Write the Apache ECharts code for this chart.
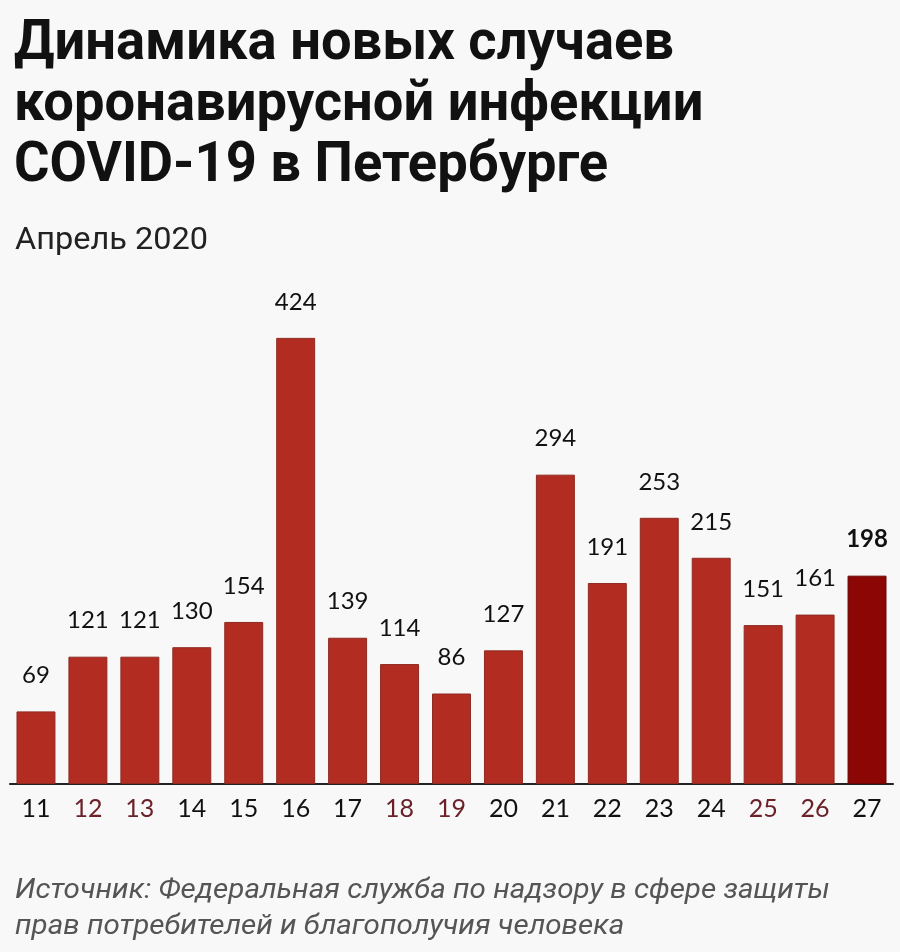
<!DOCTYPE html>
<html><head><meta charset="utf-8">
<script src="https://cdn.jsdelivr.net/npm/echarts@6/dist/echarts.min.js"></script>
<style>html,body{margin:0;padding:0;background:#f8f8f8}#c{width:900px;height:952px}</style>
</head><body><div id="c"></div>
<script>
const days = ['11','12','13','14','15','16','17','18','19','20','21','22','23','24','25','26','27'];
const cases = [69,121,121,130,154,424,139,114,86,127,294,191,253,215,151,161,198];
const weekendDays = ['12','13','18','19','25','26'];
const highlightDay = '27';
const titleLines = ['Динамика новых случаев','коронавирусной инфекции','COVID-19 в Петербурге'];
const subtitle = 'Апрель 2020';
const sourceLines = ['Источник: Федеральная служба по надзору в сфере защиты','прав потребителей и благополучия человека'];

const ctx = document.createElement('canvas').getContext('2d');
function sx(text, font, target){ ctx.font = font; return target / ctx.measureText(text).width; }

const tFont = 'bold 56px Roboto';
const tScale = sx(titleLines[0], tFont, 660);
const sFont = '31px Roboto';
const sScale = sx(subtitle, sFont, 193);
const srcFont = 'italic 28px Roboto';
const srcScale = sx(sourceLines[0], srcFont, 815);

const graphics = [];
titleLines.forEach((t,i)=>graphics.push({type:'text', x:14, y:17+i*61, scaleX:tScale,
  style:{text:t, font:tFont, fill:'#111', textVerticalAlign:'top'}}));
graphics.push({type:'text', x:15, y:226, scaleX:sScale, style:{text:subtitle, font:sFont, fill:'#222', textVerticalAlign:'top'}});
sourceLines.forEach((t,i)=>graphics.push({type:'text', x:15, y:877+i*36, scaleX:srcScale,
  style:{text:t, font:srcFont, fill:'#555', textVerticalAlign:'top'}}));

const chart = echarts.init(document.getElementById('c'));
const data = cases.map((v,i)=> days[i]===highlightDay ? {
  value:v,
  itemStyle:{color:'#8c0606', borderColor:'#6e0404'},
  label:{fontWeight:'bold'}
} : v);

chart.setOption({
  backgroundColor:'#f8f8f8',
  animation:false,
  graphic:graphics,
  grid:{left:10, right:7, top:300, bottom:168, containLabel:false},
  xAxis:{type:'category', data:days,
    axisLine:{lineStyle:{color:'#222', width:2}},
    axisTick:{show:false},
    axisLabel:{fontFamily:'Lato', fontSize:25, margin:12,
      color:(v)=> weekendDays.includes(v) ? '#6b2128' : '#111'}},
  yAxis:{type:'value', min:0, max:460, show:false, splitLine:{show:false}},
  series:[{type:'bar', data:data, barCategoryGap:'25%',
    itemStyle:{color:'#b22c22', borderColor:'#8f2a22', borderWidth:1},
    label:{show:true, position:'top', distance:24, fontFamily:'Lato', fontSize:24, color:'#111'}}]
});
</script></body></html>
